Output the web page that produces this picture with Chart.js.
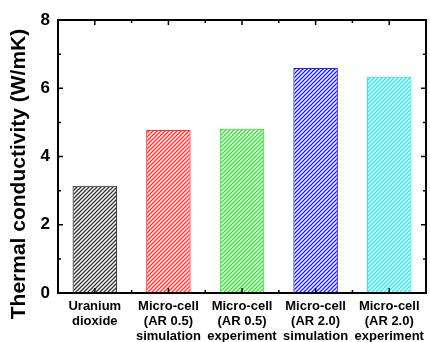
<!DOCTYPE html>
<html>
<head>
<meta charset="utf-8">
<script src="https://cdn.jsdelivr.net/npm/chart.js@4/dist/chart.umd.min.js"></script>
<style>
  html, body { margin: 0; padding: 0; background: #fff; }
  #wrap { width: 430px; height: 342px; }
</style>
</head>
<body>
<div id="wrap"><canvas id="chart" width="430" height="342"></canvas></div>
<script>
// ─── Data ────────────────────────────────────────────────────────────────────
const CATEGORIES = [
    ["Uranium", "dioxide"],
    ["Micro-cell", "(AR 0.5)", "simulation"],
    ["Micro-cell", "(AR 0.5)", "experiment"],
    ["Micro-cell", "(AR 2.0)", "simulation"],
    ["Micro-cell", "(AR 2.0)", "experiment"],
];
const CONDUCTIVITY = [3.14, 4.78, 4.81, 6.59, 6.34];
const Y_TICKS      = [0, 2, 4, 6, 8];
const Y_TITLE      = "Thermal conductivity (W/mK)";

const COLORS = ["#333333", "#ff3030", "#30e030", "#2020e0", "#20e8e8"];
const FONT   = "Arial, 'Liberation Sans', sans-serif";

// ─── Diagonal hatch pattern ("///") ──────────────────────────────────────────
function hatch(color) {
    const c = document.createElement("canvas");
    c.width = 4; c.height = 4;
    const g = c.getContext("2d");
    g.strokeStyle = color;
    g.lineWidth = 1.3;
    g.beginPath();
    g.moveTo(-1, 5); g.lineTo(5, -1);
    g.moveTo(-1, 1); g.lineTo(1, -1);
    g.moveTo(3, 5);  g.lineTo(5, 3);
    g.stroke();
    return g.createPattern(c, "repeat");
}

// ─── Box frame with inward ticks + rotated y title ───────────────────────────
const frame = {
    id: "frame",
    afterDraw(chart) {
        const { ctx, chartArea: a, scales: { x, y } } = chart;
        ctx.save();
        ctx.strokeStyle = "#000";
        ctx.lineWidth = 1.5;

        for (let v = 0; v <= 8; v++) {
            const py = y.getPixelForValue(v);
            const len = v % 2 === 0 ? 5 : 3;
            ctx.beginPath();
            ctx.moveTo(a.left, py);  ctx.lineTo(a.left + len, py);
            ctx.moveTo(a.right, py); ctx.lineTo(a.right - len, py);
            ctx.stroke();
        }
        for (let i = 0; i < CATEGORIES.length; i++) {
            const px = x.getPixelForValue(i);
            const bx = x.getPixelForValue(i + 0.5);
            ctx.beginPath();
            ctx.moveTo(px, a.bottom); ctx.lineTo(px, a.bottom - 5);
            ctx.moveTo(px, a.top);    ctx.lineTo(px, a.top + 5);
            ctx.moveTo(bx, a.bottom); ctx.lineTo(bx, a.bottom - 3);
            ctx.moveTo(bx, a.top);    ctx.lineTo(bx, a.top + 3);
            ctx.stroke();
        }

        ctx.lineWidth = 2;
        ctx.strokeRect(a.left, a.top, a.right - a.left, a.bottom - a.top);

        ctx.translate(19, 174);
        ctx.rotate(-Math.PI / 2);
        ctx.fillStyle = "#000";
        ctx.font = "bold 21px " + FONT;
        ctx.textAlign = "center";
        ctx.textBaseline = "middle";
        ctx.fillText(Y_TITLE, 0, 0);
        ctx.restore();
    },
};

new Chart(document.getElementById("chart"), {
    type: "bar",
    data: {
        labels: CATEGORIES,
        datasets: [{
            data: CONDUCTIVITY,
            backgroundColor: COLORS.map(hatch),
            borderColor: COLORS,
            borderWidth: 1,
            borderSkipped: false,
            barPercentage: 0.605,
            categoryPercentage: 1,
        }],
    },
    options: {
        responsive: false,
        animation: false,
        layout: { padding: { top: 20, right: 1, left: 0, bottom: 0 } },
        plugins: { legend: { display: false }, tooltip: { enabled: false } },
        scales: {
            x: {
                grid: { display: false, drawTicks: false },
                border: { display: false },
                ticks: {
                    color: "#000",
                    padding: 6,
                    maxRotation: 0,
                    font: { family: FONT, size: 13, weight: "bold", lineHeight: 1.15 },
                },
                afterFit: s => { s.height = 49; },
            },
            y: {
                min: 0,
                max: 8,
                grid: { display: false, drawTicks: false },
                border: { display: false },
                afterBuildTicks: s => { s.ticks = Y_TICKS.map(v => ({ value: v })); },
                ticks: {
                    color: "#000",
                    padding: 8,
                    font: { family: FONT, size: 17, weight: "bold" },
                },
                afterFit: s => { s.width = 58; },
            },
        },
    },
    plugins: [frame],
});
</script>
</body>
</html>
